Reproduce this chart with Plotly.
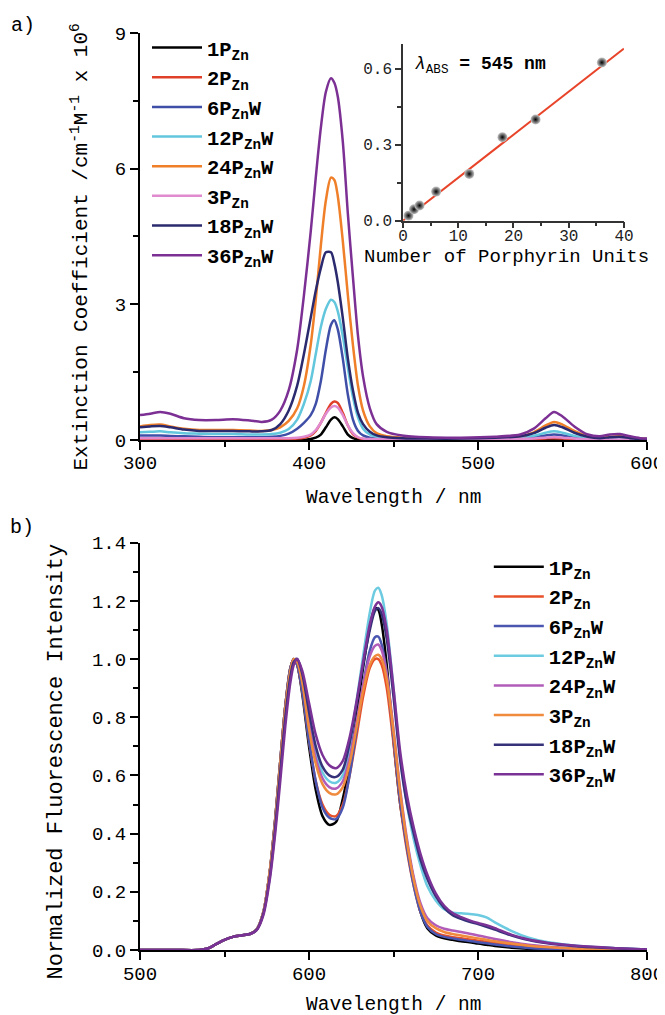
import plotly.graph_objects as go

# ---------------- data: absorption (panel a) ----------------
wl_abs = [300, 306, 312, 318, 326, 335, 345, 355, 365, 372, 378, 383, 388, 393, 397, 401, 404, 407, 410, 413,
          415, 417, 420, 423, 426, 429, 432, 436, 440, 446, 455, 470, 490, 510, 525, 533, 540, 545, 550, 557,
          565, 572, 578, 584, 590, 596, 600]

abs_1P = [0.0, 0.0, 0.0, 0.0, 0.0, 0.0, 0.0, 0.0, 0.0, 0.0, 0.0, 0.0, 0.0, 0.0, 0.0, 0.02, 0.05, 0.12, 0.28, 0.45,
          0.5, 0.46, 0.3, 0.12, 0.04, 0.01, 0.0, 0.0, 0.0, 0.0, 0.0, 0.0, 0.0, 0.0, 0.005, 0.01, 0.016, 0.02, 0.017, 0.01,
          0.004, 0.002, 0.003, 0.004, 0.002, 0.0, 0.0]
abs_2P = [0.02, 0.02, 0.02, 0.02, 0.02, 0.02, 0.02, 0.02, 0.02, 0.02, 0.02, 0.02, 0.02, 0.03, 0.05, 0.1, 0.2, 0.38, 0.6, 0.8,
          0.85, 0.82, 0.6, 0.32, 0.13, 0.05, 0.02, 0.01, 0.01, 0.01, 0.01, 0.01, 0.01, 0.01, 0.015, 0.022, 0.034, 0.04, 0.034, 0.02,
          0.01, 0.006, 0.008, 0.009, 0.005, 0.003, 0.002]
abs_6P = [0.1, 0.1, 0.1, 0.09, 0.08, 0.07, 0.06, 0.06, 0.06, 0.06, 0.07, 0.09, 0.14, 0.25, 0.38, 0.55, 0.8, 1.3, 2.0, 2.55,
          2.65, 2.45, 1.8, 1.0, 0.45, 0.2, 0.1, 0.05, 0.03, 0.02, 0.01, 0.01, 0.01, 0.02, 0.03, 0.06, 0.1, 0.12, 0.1, 0.05,
          0.02, 0.01, 0.02, 0.02, 0.01, 0.0, 0.0]
abs_12P = [0.17, 0.18, 0.19, 0.17, 0.15, 0.14, 0.13, 0.13, 0.12, 0.12, 0.13, 0.16, 0.24, 0.45, 0.8, 1.3, 1.9, 2.5, 2.9, 3.1,
           3.05, 2.85, 2.3, 1.6, 0.95, 0.5, 0.25, 0.12, 0.07, 0.04, 0.03, 0.02, 0.02, 0.03, 0.05, 0.09, 0.16, 0.19, 0.16, 0.09,
           0.04, 0.02, 0.03, 0.04, 0.02, 0.01, 0.01]
abs_24P = [0.3, 0.33, 0.34, 0.3, 0.25, 0.22, 0.22, 0.22, 0.21, 0.2, 0.22, 0.28, 0.42, 0.7, 1.2, 2.1, 3.1, 4.3, 5.3, 5.8,
           5.75, 5.4, 4.4, 3.2, 2.1, 1.2, 0.65, 0.3, 0.15, 0.08, 0.05, 0.04, 0.04, 0.05, 0.08, 0.17, 0.32, 0.4, 0.34, 0.2,
           0.08, 0.05, 0.07, 0.08, 0.05, 0.03, 0.02]
abs_3P = [0.04, 0.04, 0.04, 0.04, 0.04, 0.04, 0.04, 0.04, 0.04, 0.04, 0.04, 0.04, 0.04, 0.05, 0.07, 0.12, 0.22, 0.38, 0.58, 0.72,
          0.75, 0.72, 0.55, 0.32, 0.15, 0.06, 0.03, 0.02, 0.02, 0.02, 0.02, 0.02, 0.02, 0.02, 0.025, 0.035, 0.05, 0.06, 0.05, 0.03,
          0.015, 0.01, 0.012, 0.013, 0.008, 0.004, 0.003]
abs_18P = [0.28, 0.3, 0.31, 0.28, 0.23, 0.2, 0.2, 0.2, 0.19, 0.19, 0.22, 0.35, 0.65, 1.2, 1.9, 2.7, 3.3, 3.8, 4.15, 4.15,
           3.9, 3.5, 2.7, 1.8, 1.1, 0.6, 0.35, 0.18, 0.1, 0.06, 0.04, 0.03, 0.03, 0.05, 0.08, 0.15, 0.27, 0.33, 0.28, 0.16,
           0.07, 0.04, 0.06, 0.07, 0.04, 0.02, 0.02]
abs_36P = [0.55, 0.58, 0.62, 0.58, 0.48, 0.44, 0.44, 0.46, 0.43, 0.4, 0.45, 0.65, 1.1, 2.0, 3.2, 4.6, 5.8, 6.9, 7.7, 8.0,
           7.9, 7.6, 6.6, 5.0, 3.6, 2.3, 1.4, 0.7, 0.35, 0.18, 0.1, 0.06, 0.05, 0.07, 0.12, 0.25, 0.48, 0.62, 0.52, 0.3,
           0.12, 0.08, 0.12, 0.13, 0.08, 0.04, 0.03]

# inset: absorbance at 545 nm vs number of porphyrin units
n_units = [1, 2, 3, 6, 12, 18, 24, 36]
abs545 = [0.02, 0.045, 0.06, 0.115, 0.185, 0.33, 0.40, 0.625]
fit_x = [0, 40]
fit_y = [0.0, 0.68]

# ---------------- data: fluorescence (panel b) ----------------
wl_fl = [500, 520, 535, 540, 545, 550, 555, 560, 565, 569, 573, 577, 580, 583, 586, 589, 591, 593, 596, 600,
         604, 608, 612, 616, 620, 624, 628, 632, 636, 639, 641, 643, 646, 650, 654, 658, 662, 666, 670, 675,
         680, 685, 690, 695, 700, 705, 710, 720, 730, 740, 750, 760, 780, 800]

fl_1P = [0, 0, 0, 0.005, 0.02, 0.035, 0.045, 0.05, 0.055, 0.07, 0.13, 0.28, 0.45, 0.65, 0.84, 0.97, 1.0, 0.98, 0.88, 0.7,
         0.55, 0.46, 0.43, 0.44, 0.52, 0.64, 0.8, 0.97, 1.11, 1.175, 1.17, 1.12, 0.98, 0.72, 0.5, 0.36, 0.24, 0.13, 0.075, 0.05,
         0.04, 0.035, 0.03, 0.027, 0.022, 0.018, 0.014, 0.008, 0.004, 0.002, 0.001, 0, 0, 0]
fl_2P = [0, 0, 0, 0.005, 0.02, 0.035, 0.045, 0.05, 0.055, 0.07, 0.13, 0.28, 0.45, 0.65, 0.84, 0.97, 1.0, 0.98, 0.89, 0.72,
         0.58, 0.5, 0.465, 0.46, 0.5, 0.6, 0.73, 0.87, 0.97, 1.0, 1.0, 0.98, 0.9, 0.71, 0.5, 0.34, 0.22, 0.13, 0.085, 0.06,
         0.05, 0.044, 0.04, 0.036, 0.032, 0.028, 0.023, 0.016, 0.01, 0.006, 0.004, 0.002, 0.001, 0]
fl_6P = [0, 0, 0, 0.005, 0.02, 0.035, 0.045, 0.05, 0.055, 0.07, 0.13, 0.28, 0.45, 0.65, 0.84, 0.97, 1.0, 0.98, 0.89, 0.72,
         0.58, 0.49, 0.455, 0.45, 0.49, 0.6, 0.75, 0.91, 1.03, 1.075, 1.077, 1.05, 0.95, 0.73, 0.51, 0.35, 0.22, 0.13, 0.08, 0.055,
         0.045, 0.04, 0.035, 0.031, 0.027, 0.023, 0.019, 0.012, 0.007, 0.004, 0.002, 0.001, 0, 0]
fl_12P = [0, 0, 0, 0.005, 0.02, 0.035, 0.045, 0.05, 0.055, 0.07, 0.13, 0.27, 0.43, 0.62, 0.81, 0.95, 0.995, 1.0, 0.94, 0.8,
          0.68, 0.61, 0.58, 0.575, 0.6, 0.7, 0.85, 1.01, 1.16, 1.235, 1.245, 1.22, 1.12, 0.9, 0.66, 0.5, 0.38, 0.29, 0.22, 0.17,
          0.14, 0.128, 0.126, 0.124, 0.12, 0.112, 0.095, 0.065, 0.042, 0.028, 0.02, 0.014, 0.007, 0.002]
fl_24P = [0, 0, 0, 0.005, 0.02, 0.035, 0.045, 0.05, 0.055, 0.07, 0.13, 0.27, 0.43, 0.62, 0.81, 0.95, 0.995, 1.0, 0.93, 0.78,
          0.66, 0.59, 0.56, 0.555, 0.58, 0.66, 0.78, 0.91, 1.01, 1.045, 1.05, 1.03, 0.95, 0.76, 0.55, 0.38, 0.25, 0.16, 0.11, 0.085,
          0.073, 0.067, 0.062, 0.056, 0.05, 0.044, 0.038, 0.027, 0.018, 0.012, 0.008, 0.005, 0.002, 0]
fl_3P = [0, 0, 0, 0.005, 0.02, 0.035, 0.045, 0.05, 0.055, 0.07, 0.13, 0.28, 0.44, 0.64, 0.83, 0.96, 1.0, 0.99, 0.92, 0.76,
         0.64, 0.57, 0.54, 0.535, 0.56, 0.64, 0.76, 0.89, 0.98, 1.01, 1.015, 1.0, 0.93, 0.75, 0.54, 0.37, 0.24, 0.15, 0.1, 0.075,
         0.062, 0.055, 0.05, 0.045, 0.04, 0.035, 0.03, 0.022, 0.015, 0.01, 0.007, 0.004, 0.002, 0]
fl_18P = [0, 0, 0, 0.005, 0.02, 0.035, 0.045, 0.05, 0.055, 0.069, 0.125, 0.26, 0.42, 0.61, 0.8, 0.94, 0.99, 1.0, 0.95, 0.82,
          0.7, 0.63, 0.6, 0.595, 0.62, 0.71, 0.84, 0.98, 1.1, 1.165, 1.175, 1.155, 1.07, 0.87, 0.65, 0.5, 0.4, 0.31, 0.245, 0.185,
          0.145, 0.12, 0.107, 0.097, 0.089, 0.08, 0.07, 0.05, 0.034, 0.024, 0.017, 0.012, 0.006, 0.002]
fl_36P = [0, 0, 0, 0.005, 0.02, 0.035, 0.045, 0.05, 0.055, 0.068, 0.12, 0.25, 0.4, 0.58, 0.77, 0.92, 0.98, 1.0, 0.96, 0.85,
          0.74, 0.67, 0.635, 0.625, 0.65, 0.73, 0.85, 0.99, 1.12, 1.18, 1.195, 1.18, 1.1, 0.9, 0.68, 0.53, 0.42, 0.33, 0.26, 0.195,
          0.152, 0.127, 0.113, 0.102, 0.093, 0.085, 0.075, 0.052, 0.036, 0.026, 0.019, 0.014, 0.007, 0.002]

names = ["1P<sub>Zn</sub>", "2P<sub>Zn</sub>", "6P<sub>Zn</sub>W", "12P<sub>Zn</sub>W",
         "24P<sub>Zn</sub>W", "3P<sub>Zn</sub>", "18P<sub>Zn</sub>W", "36P<sub>Zn</sub>W"]
abs_series = [abs_1P, abs_2P, abs_6P, abs_12P, abs_24P, abs_3P, abs_18P, abs_36P]
fl_series = [fl_1P, fl_2P, fl_6P, fl_12P, fl_24P, fl_3P, fl_18P, fl_36P]
colors_a = ["#000000", "#e0402a", "#3f4fa8", "#62c6dc", "#f07f2a", "#e08ad0", "#2b2a6e", "#7c3094"]
colors_b = ["#000000", "#e8502a", "#4a56b0", "#6ccbe0", "#b05cb8", "#f08a3c", "#35327a", "#7a3296"]

FONT = "Liberation Mono"

fig = go.Figure()
for nm, ys, c in zip(names, abs_series, colors_a):
    fig.add_trace(go.Scatter(x=wl_abs, y=ys, name=nm, mode="lines",
                             line=dict(color=c, width=2.5, shape="spline", smoothing=0.8),
                             xaxis="x", yaxis="y", legend="legend"))
for nm, ys, c in zip(names, fl_series, colors_b):
    fig.add_trace(go.Scatter(x=wl_fl, y=ys, name=nm, mode="lines",
                             line=dict(color=c, width=2.5, shape="spline", smoothing=0.8),
                             xaxis="x2", yaxis="y2", legend="legend2"))
# inset
fig.add_trace(go.Scatter(x=fit_x, y=fit_y, mode="lines", line=dict(color="#e8442a", width=2),
                         xaxis="x3", yaxis="y3", showlegend=False))
fig.add_trace(go.Scatter(x=n_units, y=abs545, mode="markers",
                         marker=dict(color="#c8c8c8", size=10, gradient=dict(type="radial", color="#000000"),
                                     line=dict(width=0)),
                         xaxis="x3", yaxis="y3", showlegend=False))

axis_common = dict(showline=True, linecolor="black", linewidth=2, ticks="outside", ticklen=8, tickwidth=2,
                   tickcolor="black", showgrid=False, zeroline=False, mirror=False, automargin=False,
                   tickfont=dict(family=FONT, size=19, color="black"))
minor_main = dict(ticklen=5, tickwidth=2, ticks="outside", tickcolor="black")
inset_common = dict(showline=True, linecolor="#333", linewidth=1.5, ticks="outside", ticklen=6, tickwidth=1.5,
                    tickcolor="#333", showgrid=False, zeroline=False, automargin=False,
                    tickfont=dict(family=FONT, size=16, color="#222"))
minor_inset = dict(ticklen=4, tickwidth=1.5, ticks="outside", tickcolor="#333")

fig.update_layout(
    width=657, height=1007,
    margin=dict(l=132, r=18, t=25, b=65),
    paper_bgcolor="white", plot_bgcolor="white",
    font=dict(family=FONT, color="black"),
    xaxis=dict(domain=[0, 1], anchor="y", range=[300, 600], dtick=100, tick0=300, ticklabelstandoff=-4,
               minor=dict(dtick=50, **minor_main), **axis_common),
    yaxis=dict(domain=[0.5562, 1], anchor="x", range=[0, 9], dtick=3, tick0=0,
               minor=dict(dtick=1.5, **minor_main), **axis_common),
    xaxis2=dict(domain=[0, 1], anchor="y2", range=[500, 800], dtick=100, tick0=500, ticklabelstandoff=-3,
                minor=dict(dtick=50, **minor_main), **axis_common),
    yaxis2=dict(domain=[0, 0.4442], anchor="x2", range=[0, 1.4], dtick=0.2, tick0=0, tickformat=".1f",
                minor=dict(dtick=0.1, **minor_main), **axis_common),
    xaxis3=dict(domain=[0.5187, 0.9546], anchor="y3", range=[0, 40], dtick=10, tick0=0, ticklabelstandoff=-7,
                minor=dict(dtick=5, **minor_inset), **inset_common),
    yaxis3=dict(domain=[0.7953, 0.9885], anchor="x3", range=[0, 0.7], dtick=0.3, tick0=0, tickformat=".1f",
                minor=dict(dtick=0.15, **minor_inset), **inset_common),
    legend=dict(x=0.0138, y=1.0057, xanchor="left", yanchor="top", bgcolor="rgba(0,0,0,0)",
                font=dict(family=FONT, size=20.5, color="black", weight="bold"), itemwidth=50,
                tracegroupgap=0),
    legend2=dict(x=0.688, y=0.4395, xanchor="left", yanchor="top", bgcolor="rgba(0,0,0,0)",
                 font=dict(family=FONT, size=20.5, color="black", weight="bold"), itemwidth=50,
                 tracegroupgap=0),
)

ann = [
    dict(text="a)", x=-0.2308, y=1.0087, xanchor="center", yanchor="middle", font=dict(size=20)),
    dict(text="b)", x=-0.2327, y=0.4602, xanchor="center", yanchor="middle", font=dict(size=20)),
    dict(text="Wavelength / nm", x=0.5, y=0.4929, xanchor="center", yanchor="middle", font=dict(size=19.5)),
    dict(text="Wavelength / nm", x=0.5, y=-0.0595, xanchor="center", yanchor="middle", font=dict(size=19.5)),
    dict(text="Extinction Coefficient /cm<sup>-1</sup>M<sup>-1</sup> x 10<sup>6</sup>", x=-0.1183, y=0.7661,
         textangle=-90, xanchor="center", yanchor="middle", font=dict(size=21)),
    dict(text="Normalized Fluorescence Intensity", x=-0.1657, y=0.2056,
         textangle=-90, xanchor="center", yanchor="middle", font=dict(size=22)),
    dict(text="Number of Porphyrin Units", x=0.7219, y=0.756, xanchor="center", yanchor="middle",
         font=dict(size=19)),
    dict(text="<i>λ</i><sub>ABS</sub> <b>= 545 nm</b>", x=0.5385, y=0.9651, xanchor="left", yanchor="middle",
         font=dict(size=18)),
]
for a in ann:
    a.update(xref="paper", yref="paper", showarrow=False)
    a["font"] = dict(family=FONT, color="black", **a["font"])
fig.update_layout(annotations=ann)

fig.write_html("out.html")
